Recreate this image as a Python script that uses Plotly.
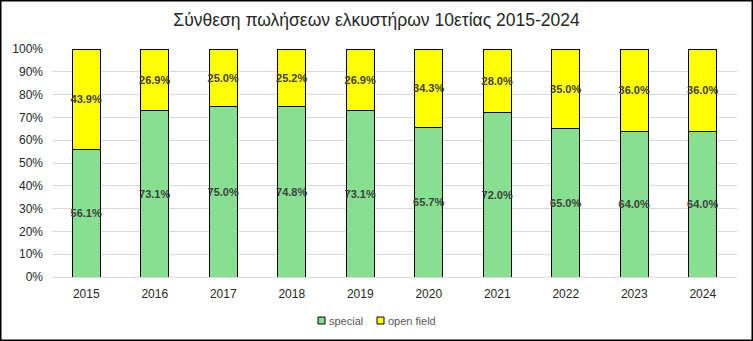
import plotly.graph_objects as go

years = ["2015", "2016", "2017", "2018", "2019", "2020", "2021", "2022", "2023", "2024"]
special = [56.1, 73.1, 75.0, 74.8, 73.1, 65.7, 72.0, 65.0, 64.0, 64.0]
open_field = [43.9, 26.9, 25.0, 25.2, 26.9, 34.3, 28.0, 35.0, 36.0, 36.0]
series_names = ["special", "open field"]
series_colors = ["#86E08F", "#FFFF00"]

W, H = 753, 341
ml, mr, mt, mb = 52, 16, 49, 64
pw, ph = W - ml - mr, H - mt - mb


def px_x(x):
    return (x - ml) / pw


def px_y(y):
    return (H - mb - y) / ph


fig = go.Figure()
for name, vals, col in zip(series_names, [special, open_field], series_colors):
    fig.add_trace(go.Bar(
        x=years, y=vals, name=name,
        marker=dict(color=col, line=dict(color="black", width=1)),
        text=[f"{v:.1f}%" for v in vals], textposition="inside",
        insidetextanchor="middle", textangle=0,
        textfont=dict(family="Liberation Sans", size=11, color="#404040", weight="bold"),
        showlegend=False,
    ))

fig.update_layout(
    barmode="stack", bargap=0.59,
    width=W, height=H,
    margin=dict(l=ml, r=mr, t=mt, b=mb, autoexpand=False),
    paper_bgcolor="white", plot_bgcolor="white",
    font=dict(family="Liberation Sans", color="#262626"),
    uniformtext=dict(minsize=11, mode="show"),
    title=dict(text="Σύνθεση πωλήσεων ελκυστήρων 10ετίας 2015-2024",
               x=0.5, xanchor="center", y=1 - 20 / H, yanchor="middle",
               font=dict(size=17.5, color="#262626", family="Liberation Sans")),
    showlegend=False,
)
fig.update_xaxes(showgrid=False, showline=True, linecolor="#d9d9d9",
                 tickfont=dict(size=12, color="#262626"), ticks="",
                 ticklabelstandoff=6)
fig.update_yaxes(range=[0, 100], dtick=10, ticksuffix="%", showgrid=True,
                 gridcolor="#d9d9d9", zeroline=False,
                 tickfont=dict(size=12, color="#262626"),
                 ticklabelstandoff=8)

# custom legend
legend_x = [318, 377]
for lx, name, col in zip(legend_x, series_names, series_colors):
    fig.add_shape(type="rect", xref="paper", yref="paper",
                  x0=px_x(lx), x1=px_x(lx + 7), y0=px_y(324), y1=px_y(317),
                  line=dict(color="black", width=1), fillcolor=col)
    fig.add_annotation(xref="paper", yref="paper", x=px_x(lx + 9), y=px_y(320.5),
                       text=name, showarrow=False, xanchor="left", yanchor="middle",
                       font=dict(size=11, color="#595959", family="Liberation Sans"))

fig.add_shape(type="rect", xref="paper", yref="paper",
              x0=-(ml - 0.75) / pw, x1=(W - ml - 0.75) / pw,
              y0=-(mb - 0.75) / ph, y1=(H - mb - 0.75) / ph,
              line=dict(color="black", width=1.5), fillcolor="rgba(0,0,0,0)", layer="above")

fig.write_html("out.html")
